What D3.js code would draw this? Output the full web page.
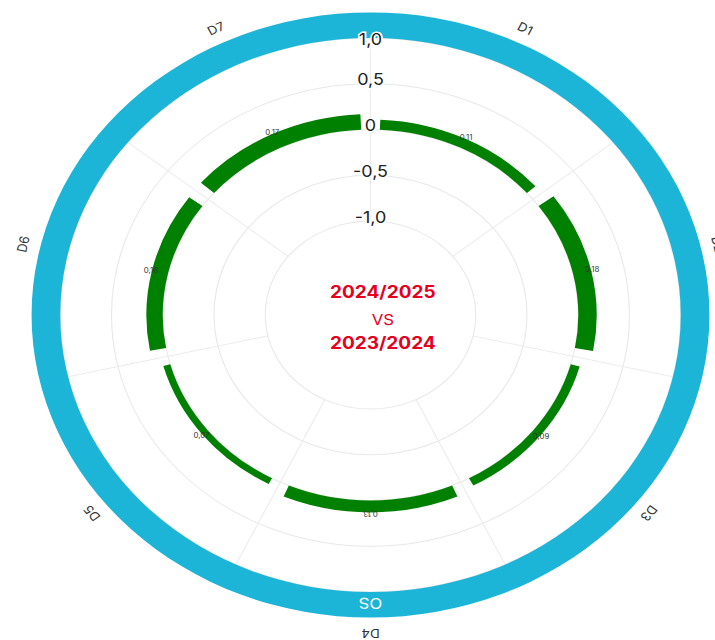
<!DOCTYPE html>
<html>
<head>
<meta charset="utf-8">
<script src="https://cdn.jsdelivr.net/npm/d3@7"></script>
<style>
  html, body { margin: 0; padding: 0; background: #fff; }
  svg { display: block; }
  text { font-family: Inter, "Open Sans", "DejaVu Sans", sans-serif; }
</style>
</head>
<body>
<svg id="chart" width="715" height="640"></svg>
<script>
const categories = ['D1', 'D2', 'D3', 'D4', 'D5', 'D6', 'D7']
const values = [0.11, 0.18, 0.09, 0.13, 0.07, 0.16, 0.17]
const radialTicks = [-1, -0.5, 0, 0.5, 1]
const tickLabels = ['-1,0', '-0,5', '0', '0,5', '1,0']
const ringName = 'OS'
const ringBand = [1, 1.28]
const centerLines = ['2024/2025', 'VS', '2023/2024']

const width = 715
const height = 640
const cx = 370.5
const cy = 315
const stretch = 1.12

const green = '#008000'
const cyan = '#1cb5d8'
const red = '#e6001e'

const data = categories.map((c, i) => ({ cat: c, value: values[i] }))
const fmt = d3.formatLocale({ decimal: ',', thousands: '.', grouping: [3], currency: ['', ''] }).format('.2f')

const svg = d3.select('#chart')
const g = svg.append('g')
  .attr('transform', `translate(${cx},${cy}) scale(${stretch},1)`)

const angle = d3.scaleBand()
  .domain(categories)
  .range([0, 2 * Math.PI])
  .paddingInner(0.1)
  .paddingOuter(0.05)

const r = d3.scaleLinear()
  .domain([-1, 1])
  .range([94, 277])

const step = angle.step()
const deg = a => a * 180 / Math.PI
const mid = d => angle(d) + angle.bandwidth() / 2

// grid circles
g.append('g')
  .selectAll('circle')
  .data(radialTicks)
  .enter()
  .append('circle')
  .attr('r', d => r(d))
  .attr('fill', 'none')
  .attr('stroke', '#e8e8e8')
  .attr('stroke-width', 1)

// spokes between categories
g.append('g')
  .selectAll('line')
  .data(categories)
  .enter()
  .append('line')
  .attr('x1', (d, i) => r(-1) * Math.sin(i * step))
  .attr('y1', (d, i) => -r(-1) * Math.cos(i * step))
  .attr('x2', (d, i) => r(1) * Math.sin(i * step))
  .attr('y2', (d, i) => -r(1) * Math.cos(i * step))
  .attr('stroke', '#ececec')
  .attr('stroke-width', 1)

// outer ring
const ringArc = d3.arc()
  .innerRadius(r(ringBand[0]))
  .outerRadius(r(ringBand[1]))
  .startAngle(0)
  .endAngle(2 * Math.PI)

g.append('path')
  .attr('d', ringArc())
  .attr('fill', cyan)

const ringR = (r(ringBand[0]) + r(ringBand[1])) / 2 - 2
g.append('text')
  .attr('transform', `rotate(180) translate(0,${-ringR})`)
  .attr('text-anchor', 'middle')
  .attr('dominant-baseline', 'central')
  .attr('fill', '#fff')
  .style('font-size', '15px')
  .text(ringName)

// bars
const barArc = d3.arc()
  .innerRadius(r(0))
  .outerRadius(d => r(d.value))
  .startAngle(d => angle(d.cat))
  .endAngle(d => angle(d.cat) + angle.bandwidth())

g.append('g')
  .selectAll('path')
  .data(data)
  .enter()
  .append('path')
  .attr('d', barArc)
  .attr('fill', green)

// value labels, sitting on the outer edge of each bar
g.append('g')
  .selectAll('text')
  .data(data)
  .enter()
  .append('text')
  .attr('transform', d => {
    const a = mid(d.cat)
    const rr = r(d.value) + 1
    const x = rr * Math.sin(a)
    const y = -rr * Math.cos(a)
    const rot = d.cat === 'D4' ? 180 : 0
    return `translate(${x},${y}) rotate(${rot})`
  })
  .attr('text-anchor', 'middle')
  .attr('dominant-baseline', 'central')
  .attr('fill', '#333')
  .style('font-size', '7px')
  .text(d => fmt(d.value))

// category labels
g.append('g')
  .selectAll('text')
  .data(categories)
  .enter()
  .append('text')
  .attr('transform', d => `rotate(${deg(mid(d))}) translate(0,-318)`)
  .attr('text-anchor', 'middle')
  .attr('dominant-baseline', 'central')
  .attr('fill', '#333')
  .style('font-size', '12px')
  .text(d => d)

// radial tick labels
g.append('g')
  .selectAll('text')
  .data(radialTicks)
  .enter()
  .append('text')
  .attr('x', 0)
  .attr('y', d => -(r(d) + (d === 1 ? -1 : 4)))
  .attr('text-anchor', 'middle')
  .attr('dominant-baseline', 'central')
  .attr('fill', '#222')
  .attr('stroke', '#fff')
  .attr('stroke-width', 3)
  .attr('paint-order', 'stroke')
  .style('font-size', '16px')
  .text((d, i) => tickLabels[i])

// centre title (sits a little right of the chart centre)
g.append('g')
  .selectAll('text')
  .data(centerLines)
  .enter()
  .append('text')
  .attr('x', 11)
  .attr('y', (d, i) => [-23, 5, 28][i])
  .attr('text-anchor', 'middle')
  .attr('dominant-baseline', 'central')
  .attr('fill', red)
  .style('font-size', (d, i) => i === 1 ? '15px' : '17px')
  .style('font-weight', (d, i) => i === 1 ? 400 : 700)
  .text(d => d)
</script>
</body>
</html>
